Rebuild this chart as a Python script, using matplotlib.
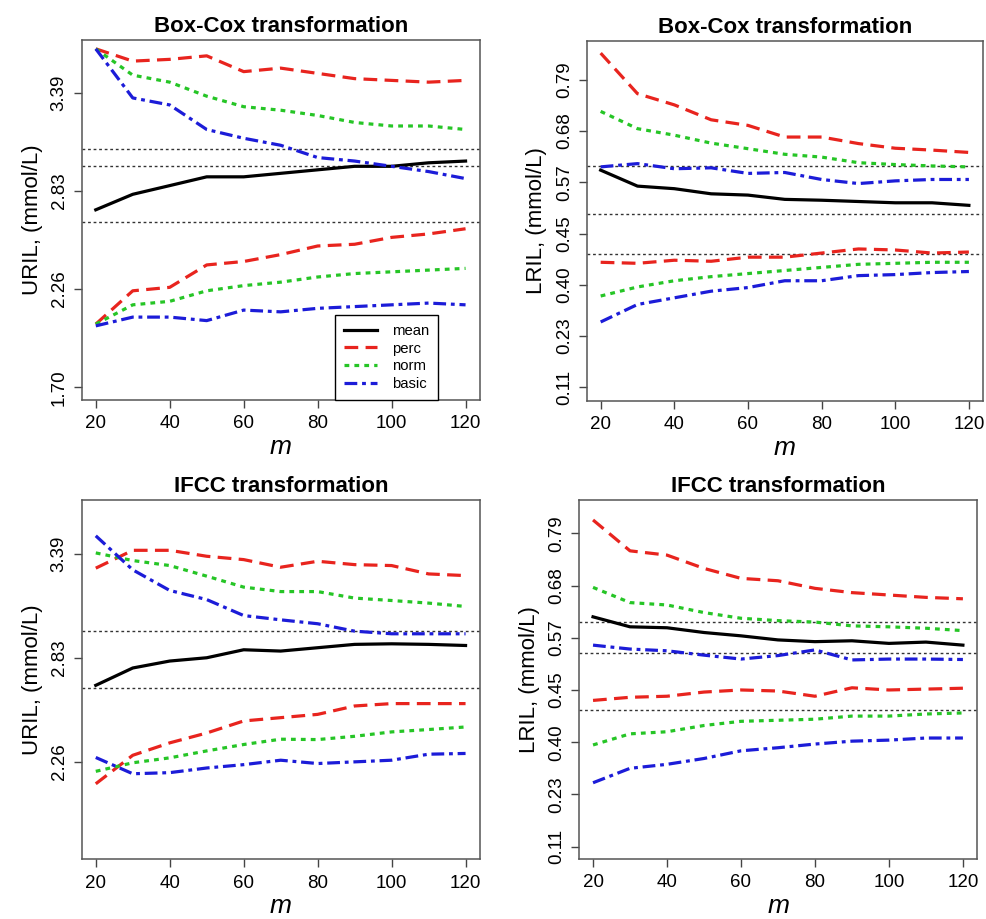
#!/usr/bin/env python3
"""Bootstrap reference limits vs sample size m, four panels."""

import matplotlib

matplotlib.use("Agg")
import matplotlib.pyplot as plt
import numpy as np

plt.rcParams["font.family"] = ["Liberation Sans", "DejaVu Sans"]

M = [20, 30, 40, 50, 60, 70, 80, 90, 100, 110, 120]

URIL_TICKS = [1.70, 2.26, 2.83, 3.39]
LRIL_TICKS = [0.11, 0.23, 0.40, 0.45, 0.57, 0.68, 0.79]

# Box-Cox, URIL
bc_u_mean = [2.72, 2.81, 2.86, 2.91, 2.91, 2.93, 2.95, 2.97, 2.97, 2.99, 3.00]
bc_u_perc_hi = [3.64, 3.57, 3.58, 3.60, 3.51, 3.53, 3.50, 3.47, 3.46, 3.45, 3.46]
bc_u_norm_hi = [3.64, 3.49, 3.45, 3.37, 3.31, 3.29, 3.26, 3.22, 3.20, 3.20, 3.18]
bc_u_basic_hi = [3.64, 3.36, 3.32, 3.18, 3.13, 3.09, 3.02, 3.00, 2.97, 2.94, 2.90]
bc_u_perc_lo = [2.06, 2.25, 2.27, 2.40, 2.42, 2.46, 2.51, 2.52, 2.56, 2.58, 2.61]
bc_u_norm_lo = [2.06, 2.17, 2.19, 2.25, 2.28, 2.30, 2.33, 2.35, 2.36, 2.37, 2.38]
bc_u_basic_lo = [2.05, 2.10, 2.10, 2.08, 2.14, 2.13, 2.15, 2.16, 2.17, 2.18, 2.17]
bc_u_ref = [3.07, 2.97, 2.65]

# Box-Cox, LRIL
bc_l_mean = [0.596, 0.561, 0.555, 0.543, 0.540, 0.530, 0.528, 0.525, 0.522, 0.522, 0.516]
bc_l_perc_hi = [0.847, 0.760, 0.736, 0.704, 0.692, 0.667, 0.667, 0.653, 0.643, 0.639, 0.634]
bc_l_norm_hi = [0.722, 0.685, 0.671, 0.654, 0.642, 0.630, 0.624, 0.612, 0.608, 0.605, 0.603]
bc_l_basic_hi = [0.603, 0.610, 0.599, 0.601, 0.589, 0.591, 0.576, 0.567, 0.573, 0.576, 0.576]
bc_l_perc_lo = [0.422, 0.421, 0.424, 0.423, 0.427, 0.427, 0.431, 0.435, 0.434, 0.431, 0.432]
bc_l_norm_lo = [0.363, 0.393, 0.404, 0.408, 0.411, 0.414, 0.417, 0.420, 0.421, 0.422, 0.422]
bc_l_basic_lo = [0.277, 0.335, 0.357, 0.379, 0.391, 0.404, 0.404, 0.409, 0.410, 0.412, 0.413]
bc_l_ref = [0.604, 0.496, 0.430]

# IFCC, URIL
if_u_mean = [2.679, 2.774, 2.812, 2.830, 2.873, 2.866, 2.884, 2.902, 2.905, 2.902, 2.896]
if_u_perc_hi = [3.312, 3.408, 3.408, 3.376, 3.358, 3.317, 3.349, 3.331, 3.326, 3.281, 3.272]
if_u_norm_hi = [3.394, 3.353, 3.326, 3.269, 3.210, 3.186, 3.186, 3.151, 3.138, 3.124, 3.106]
if_u_basic_hi = [3.486, 3.303, 3.192, 3.143, 3.057, 3.034, 3.013, 2.973, 2.959, 2.959, 2.959]
if_u_perc_lo = [2.142, 2.296, 2.364, 2.418, 2.484, 2.502, 2.520, 2.566, 2.579, 2.579, 2.579]
if_u_norm_lo = [2.209, 2.255, 2.282, 2.320, 2.355, 2.384, 2.382, 2.400, 2.424, 2.437, 2.451]
if_u_basic_lo = [2.284, 2.196, 2.202, 2.227, 2.245, 2.269, 2.251, 2.260, 2.269, 2.302, 2.306]
if_u_ref = [2.973, 2.664]

# IFCC, LRIL
if_l_mean = [0.614, 0.593, 0.591, 0.581, 0.574, 0.565, 0.561, 0.563, 0.557, 0.560, 0.553]
if_l_perc_hi = [0.818, 0.753, 0.744, 0.716, 0.695, 0.690, 0.674, 0.665, 0.660, 0.655, 0.652]
if_l_norm_hi = [0.676, 0.644, 0.639, 0.623, 0.611, 0.606, 0.603, 0.595, 0.593, 0.590, 0.585]
if_l_basic_hi = [0.553, 0.544, 0.540, 0.530, 0.521, 0.529, 0.542, 0.519, 0.521, 0.521, 0.520]
if_l_perc_lo = [0.440, 0.443, 0.444, 0.448, 0.450, 0.449, 0.444, 0.455, 0.450, 0.452, 0.454]
if_l_norm_lo = [0.391, 0.408, 0.410, 0.416, 0.420, 0.421, 0.422, 0.425, 0.425, 0.427, 0.428]
if_l_basic_lo = [0.268, 0.315, 0.328, 0.347, 0.372, 0.382, 0.394, 0.401, 0.402, 0.404, 0.404]
if_l_ref = [0.603, 0.536, 0.431]

RED = "#e8241e"
GREEN = "#26c526"
BLUE = "#1c1cd8"

STYLES = {
    "mean": dict(color="black", lw=2.3, linestyle="-"),
    "perc": dict(color=RED, lw=2.3, linestyle=(0, (4.3, 2.3))),
    "norm": dict(color=GREEN, lw=2.3, linestyle=(0, (1.5, 1.6))),
    "basic": dict(color=BLUE, lw=2.3, linestyle=(0, (4.0, 1.5, 1.2, 1.5))),
}


def tick_scale(ticks):
    """Piecewise-linear axis: each tick label sits at an equally spaced position."""
    t = np.asarray(ticks, dtype=float)
    pos = np.arange(len(t), dtype=float)
    lo_slope = t[1] - t[0]
    hi_slope = t[-1] - t[-2]
    tv = np.concatenate([[t[0] - 20 * lo_slope], t, [t[-1] + 20 * hi_slope]])
    pv = np.concatenate([[-20.0], pos, [pos[-1] + 20.0]])

    def fwd(v):
        return np.interp(v, tv, pv)

    def inv(p):
        return np.interp(p, pv, tv)

    return fwd, inv


def draw_panel(ax, title, ylabel, ticks, ylim, series, refs, legend=False):
    fwd, inv = tick_scale(ticks)
    ax.set_yscale("function", functions=(fwd, inv))
    for y in refs:
        ax.axhline(y, color="#333333", lw=1.0, linestyle=(0, (2, 2)))
    for name, hi, lo in series:
        st = STYLES[name]
        ax.plot(M, hi, label=name, **st)
        if lo is not None:
            ax.plot(M, lo, **st)
    ax.set_xticks([20, 40, 60, 80, 100, 120])
    ax.set_yticks(ticks)
    ax.set_yticklabels([f"{t:.2f}" for t in ticks], rotation=90, va="center")
    ax.yaxis.set_minor_locator(matplotlib.ticker.NullLocator())
    # limits after the ticks, so set_yticks cannot widen them
    ax.set_xlim(16.2, 123.9)
    ax.set_ylim(*ylim)
    ax.tick_params(axis="both", labelsize=13.5, length=6, width=1.0,
                   color="#444444", direction="out")
    ax.tick_params(axis="x", pad=5)
    ax.tick_params(axis="y", pad=4)
    for sp in ax.spines.values():
        sp.set_color("#555555")
        sp.set_linewidth(1.1)
    ax.set_title(title, fontsize=16, fontweight="bold", pad=6)
    ax.set_ylabel(ylabel, fontsize=16, labelpad=6)
    ax.set_xlabel("m", fontsize=19, style="italic", labelpad=2)
    if legend:
        ax.legend(loc="lower right", bbox_to_anchor=(0.894, 0.0),
                  borderaxespad=0.0, fontsize=10.7, labelspacing=0.25,
                  handlelength=2.2, handletextpad=1.0, fancybox=False,
                  edgecolor="black", framealpha=1.0, borderpad=0.6)


fig = plt.figure(figsize=(9.87, 9.19), dpi=100)
ax_tl = fig.add_axes([0.0828, 0.5647, 0.4035, 0.3917])
ax_tr = fig.add_axes([0.5944, 0.5640, 0.4018, 0.3914])
ax_bl = fig.add_axes([0.0828, 0.0650, 0.4035, 0.3910])
ax_br = fig.add_axes([0.5866, 0.0653, 0.4036, 0.3906])

draw_panel(
    ax_tl, "Box-Cox transformation", "URIL, (mmol/L)", URIL_TICKS, (1.627, 3.69),
    [("mean", bc_u_mean, None), ("perc", bc_u_perc_hi, bc_u_perc_lo),
     ("norm", bc_u_norm_hi, bc_u_norm_lo), ("basic", bc_u_basic_hi, bc_u_basic_lo)],
    bc_u_ref, legend=True,
)
draw_panel(
    ax_tr, "Box-Cox transformation", "LRIL, (mmol/L)", LRIL_TICKS, (0.079, 0.873),
    [("mean", bc_l_mean, None), ("perc", bc_l_perc_hi, bc_l_perc_lo),
     ("norm", bc_l_norm_hi, bc_l_norm_lo), ("basic", bc_l_basic_hi, bc_l_basic_lo)],
    bc_l_ref,
)
draw_panel(
    ax_bl, "IFCC transformation", "URIL, (mmol/L)", URIL_TICKS, (1.736, 3.679),
    [("mean", if_u_mean, None), ("perc", if_u_perc_hi, if_u_perc_lo),
     ("norm", if_u_norm_hi, if_u_norm_lo), ("basic", if_u_basic_hi, if_u_basic_lo)],
    if_u_ref,
)
draw_panel(
    ax_br, "IFCC transformation", "LRIL, (mmol/L)", LRIL_TICKS, (0.0817, 0.860),
    [("mean", if_l_mean, None), ("perc", if_l_perc_hi, if_l_perc_lo),
     ("norm", if_l_norm_hi, if_l_norm_lo), ("basic", if_l_basic_hi, if_l_basic_lo)],
    if_l_ref,
)

fig.savefig("out.png", dpi=100, facecolor="white")
